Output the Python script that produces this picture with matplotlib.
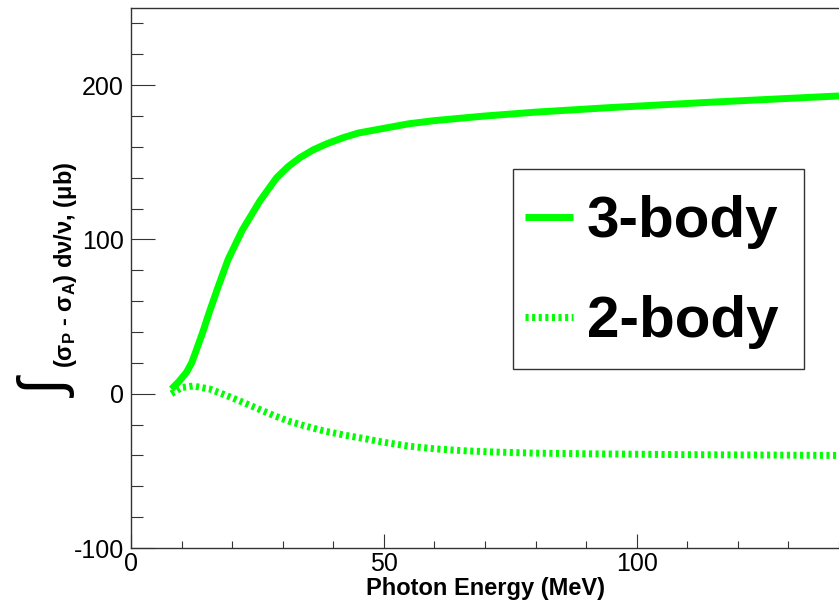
# integrated helicity difference vs photon energy

import matplotlib
import matplotlib.pyplot as plt
from matplotlib.patches import Rectangle
from matplotlib.ticker import MultipleLocator

# plot settings
matplotlib.rcParams['font.family'] = ['Liberation Sans', 'DejaVu Sans']
matplotlib.rcParams['axes.unicode_minus'] = False
matplotlib.rcParams['mathtext.fontset'] = 'custom'
matplotlib.rcParams['mathtext.rm'] = 'Liberation Sans:bold'
matplotlib.rcParams['mathtext.it'] = 'Liberation Sans:bold'
matplotlib.rcParams['mathtext.bf'] = 'Liberation Sans:bold'

GREEN = "#00FF00"
AXIS_GREY = "#333333"

# data
energy_3body = [8, 9.5, 11, 12, 13, 14.2, 15.5, 17.2, 19.2, 22, 25.5, 28.8,
                31, 33.4, 36, 38.7, 42, 45, 50, 55, 60, 70, 80, 95, 115, 140]
integral_3body = [3, 8, 14, 20, 29, 40, 53, 69, 87, 106, 125, 140,
                  147, 153, 158, 162, 166, 169, 172, 175, 177, 180, 182.5,
                  185.5, 189, 193]

energy_2body = [8, 10, 12.3, 15.6, 18, 21, 23.5, 26, 28.5, 31.4, 34.5, 38,
                42, 46, 50, 55, 60, 66, 72, 79.5, 92, 110, 140]
integral_2body = [0, 4, 5, 3, 0, -4, -7.5, -11, -14.5, -18, -21, -24,
                  -26.7, -29, -31.5, -34, -35.7, -37, -37.8, -38.5, -39,
                  -39.5, -40]

x_ticks_major, x_ticks_minor = 50, 10
y_ticks_major, y_ticks_minor = 100, 20

# Figure
W, H = 839, 607
fig = plt.figure(figsize=(W / 100, H / 100), dpi=100)
ax = fig.add_axes([131 / W, 1 - 548 / H, 708 / W, 540 / H])

ax.plot(energy_3body, integral_3body, color=GREEN, linewidth=5,
        solid_capstyle='butt', label='3-body')
ax.plot(energy_2body, integral_2body, color=GREEN, linewidth=5,
        linestyle=(0, (0.45, 0.5)), label='2-body')

ax.set_xlim(0, 140)
ax.set_ylim(-100, 250)
ax.xaxis.set_major_locator(MultipleLocator(x_ticks_major))
ax.xaxis.set_minor_locator(MultipleLocator(x_ticks_minor))
ax.yaxis.set_major_locator(MultipleLocator(y_ticks_major))
ax.yaxis.set_minor_locator(MultipleLocator(y_ticks_minor))

ax.tick_params(which='both', direction='in', top=False, right=False,
               color=AXIS_GREY, width=0.8, labelsize=18)
ax.tick_params(axis='y', which='major', length=17, pad=5)
ax.tick_params(axis='y', which='minor', length=8.5)
ax.tick_params(axis='x', which='major', length=10, pad=3)
ax.tick_params(axis='x', which='minor', length=5)

for side in ['left', 'bottom', 'top']:
    ax.spines[side].set_color(AXIS_GREY)
    ax.spines[side].set_linewidth(1.0)
ax.spines['right'].set_visible(False)

ax.set_xlabel('Photon Energy (MeV)', fontsize=17, fontweight='bold')
ax.xaxis.set_label_coords(0.5, -0.054)

ax.set_ylabel('(σ$_P$ - σ$_A$) dν/ν, (μb)', fontsize=17, fontweight='bold')
ax.yaxis.set_label_coords(-0.073, 0.525)
ax.text(-0.075, 0.295, '∫', rotation=90, rotation_mode='anchor',
        ha='center', va='bottom', fontsize=44, transform=ax.transAxes)

# legend: entries without frame, box drawn separately
ax.add_patch(Rectangle((0.5395, 0.3315), 0.4111, 0.3704, transform=ax.transAxes,
                       facecolor='white', edgecolor=AXIS_GREY, linewidth=1.0,
                       zorder=4))
leg = ax.legend(loc='center left', bbox_to_anchor=(0.5565, 0.511),
                borderaxespad=0, borderpad=0, frameon=False,
                prop={'size': 42, 'weight': 'bold'},
                handlelength=0.82, handletextpad=0.24, labelspacing=0.79)
leg.set_zorder(5)

plt.savefig('out.png', dpi=100)
